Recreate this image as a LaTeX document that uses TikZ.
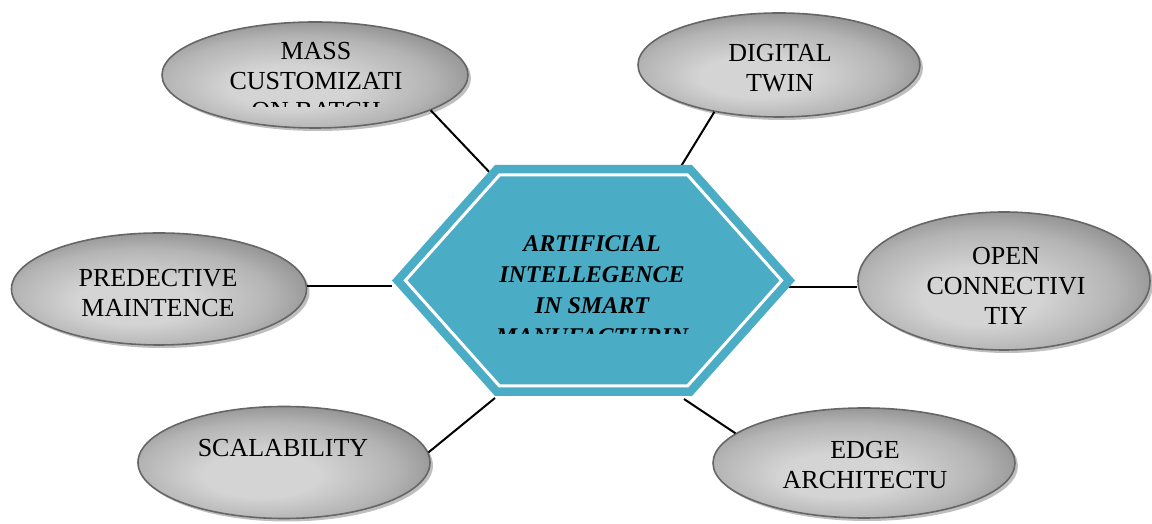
\documentclass[tikz,border=0pt]{standalone}
\usepackage{fontspec}
\setmainfont{Liberation Serif}
\usetikzlibrary{shapes.geometric,shadows}

\definecolor{hexteal}{HTML}{4BACC6}
\definecolor{pebL}{HTML}{D4D4D4}
\definecolor{pebM}{HTML}{B4B4B4}
\definecolor{pebD}{HTML}{7C7C7C}
\definecolor{pebEdge}{HTML}{666666}
\pgfdeclareradialshading{pebble}{\pgfpoint{-5bp}{-7bp}}{color(0bp)=(pebL); color(10bp)=(pebL); color(22bp)=(pebM); color(34bp)=(pebD); color(50bp)=(pebD)}

\tikzset{
  topic/.style={ellipse, draw=pebEdge, line width=1.6pt, shading=pebble, inner sep=0pt,
    drop shadow={shadow xshift=3pt, shadow yshift=-3pt, fill=black!25, opacity=1}},
  topictext/.style={align=center, font=\fontsize{26}{30}\selectfont, inner sep=0pt},
  hubtext/.style={align=center, font=\fontsize{24}{31}\selectfont\bfseries\itshape, inner sep=0pt},
  link/.style={line width=2pt, black}
}

\begin{document}
\begin{tikzpicture}[x=1pt,y=1pt]
\useasboundingbox (0,0) rectangle (1152,524);

% surrounding topics
\node[topic, minimum width=306pt, minimum height=106pt] (mass) at (315,449) {};
\node[topic, minimum width=282pt, minimum height=104pt] (twin) at (779,459) {};
\node[topic, minimum width=295pt, minimum height=112pt] (pred) at (159,235) {};
\node[topic, minimum width=292pt, minimum height=138pt] (open) at (1004,243) {};
\node[topic, minimum width=292pt, minimum height=112pt] (scal) at (284,61.5) {};
\node[topic, minimum width=302pt, minimum height=110pt] (edgearch) at (864,61) {};

% attachment points on the hexagon
\coordinate (hub) at (593.5,243.5);
\coordinate (hubNW) at (494,347);
\coordinate (hubNE) at (680,356);
\coordinate (hubW) at (392,238);
\coordinate (hubE) at (789,237);
\coordinate (hubSW) at (495,126);
\coordinate (hubSE) at (684,125);

% connectors
\draw[link] (mass.-17) -- (hubNW);
\draw[link] (twin.-144) -- (hubNE);
\draw[link] (pred.east |- hubW) -- (hubW);
\draw[link] (open.west |- hubE) -- (hubE);
\draw[link] (scal.4) -- (hubSW);
\draw[link] (edgearch.167) -- (hubSE);

% central hexagon
\fill[hexteal] (392,243.5) -- (495,359) -- (692,359) -- (795,243.5) -- (692,128) -- (495,128) -- cycle;
\draw[white, line width=3pt, fill=hexteal] (405.4,243.5) -- (499.5,349) -- (687.5,349) -- (781.6,243.5) -- (687.5,138) -- (499.5,138) -- cycle;

% texts
\begin{scope}
  \clip (400,190.5) rectangle (790,360);
  \node[hubtext] (hubT) at (592,233.8) {ARTIFICIAL\\INTELLEGENCE\\IN SMART\\MANUFACTURIN};
\end{scope}
\begin{scope}
  \clip (150,417) rectangle (480,510);
  \node[topictext] (massT) at (316,442.8) {MASS\\CUSTOMIZATI\\ON BATCH};
\end{scope}
\node[topictext] (twinT) at (780,455.8) {DIGITAL\\TWIN};
\node[topictext] (predT) at (158,230.8) {PREDECTIVE\\MAINTENCE};
\node[topictext] (openT) at (1006,237.8) {OPEN\\CONNECTIVI\\TIY};
\node[topictext] (scalT) at (283,76.1) {SCALABILITY};
\node[topictext] (edgeT) at (865,58.8) {EDGE\\ARCHITECTU};
\end{tikzpicture}
\end{document}
